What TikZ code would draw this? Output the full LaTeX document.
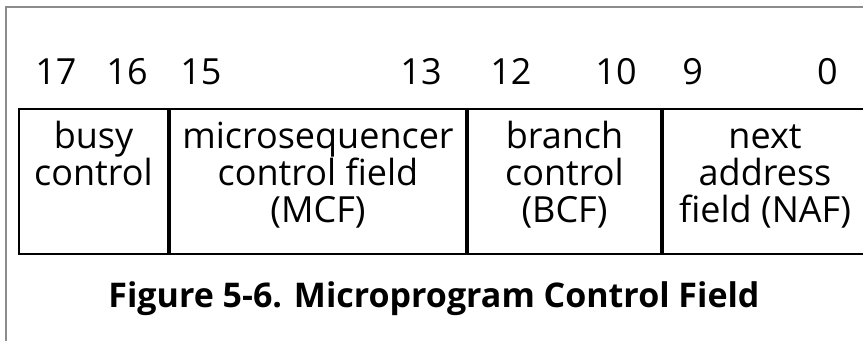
\documentclass[tikz,border=0pt]{standalone}
\usepackage{fontspec}
\setmainfont{Open Sans}
\usepackage{xcolor}
\usetikzlibrary{positioning}
\definecolor{framegray}{HTML}{8C8C8C}
\newcommand{\fieldstrut}{\rule{0pt}{13.5pt}}
\tikzset{
    field/.style={
        rectangle, draw=black, line width=1pt,
        inner sep=0pt, minimum height=72.5pt
    },
    field text/.style={
        anchor=north, align=center, inner sep=0pt,
        font=\fontsize{18}{18.5}\selectfont
    },
    bit num/.style={
        inner sep=0pt, font=\fontsize{18}{18}\selectfont
    },
    fig caption/.style={
        inner sep=0pt, anchor=base,
        font=\fontsize{17}{18}\selectfont\bfseries
    },
    page frame/.style={
        draw=framegray, line width=0.8pt
    },
}

\begin{document}
\begin{tikzpicture}[x=0.5pt, y=-0.5pt]
    \useasboundingbox (0,0) rectangle (863,341);

    % Page frame
    \draw[page frame] (6,341) |- (863,7);

    % Fields
    \node[field, minimum width=74.5pt, anchor=north west] (busy) at (18,108) {};
    \node[field, minimum width=148pt, right=0pt of busy] (mcf) {};
    \node[field, minimum width=96.5pt, right=0pt of mcf] (bcf) {};
    \node[field, minimum width=102pt, right=0pt of bcf] (naf) {};

    \node[field text, below=6.5pt of busy.north] (busy text) {\fieldstrut busy\\control};
    \node[field text, below=6.5pt of mcf.north] (mcf text) {\fieldstrut microsequencer\\control field\\(MCF)};
    \node[field text, below=6.5pt of bcf.north] (bcf text) {\fieldstrut branch\\control\\(BCF)};
    \node[field text, below=6.5pt of naf.north] (naf text) {\fieldstrut next\\address\\field (NAF)};

    % Bit numbers
    \foreach \name/\x/\num in {b17/35/17, b15/180/15, b12/490/12, b9/682/9}
        \node[bit num, anchor=base west] (\name) at (\x,85) {\num};
    \foreach \name/\x/\num in {b16/148/16, b13/442/13, b10/637/10, b0/838/0}
        \node[bit num, anchor=base east] (\name) at (\x,85) {\num};

    % Caption
    \node[fig caption] (caption) at (434,308) {Figure 5-6. Microprogram Control Field};

\end{tikzpicture}
\end{document}
